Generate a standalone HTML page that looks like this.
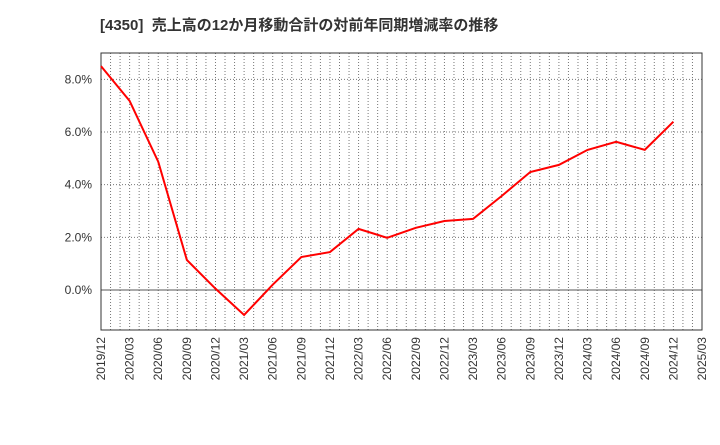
<!DOCTYPE html>
<html><head><meta charset="utf-8"><style>
body{margin:0;background:#fff;}
svg text{font-family:"Liberation Sans","Noto Sans CJK JP",sans-serif;}
</style></head><body>
<svg id="c" width="720" height="440">
<text x="100" y="30" font-size="15" font-weight="bold" fill="#333" style="white-space:pre">[4350]  売上高の12か月移動合計の対前年同期増減率の推移</text>
</svg>
<script>
const categories=["2019/12","2020/03","2020/06","2020/09","2020/12","2021/03","2021/06","2021/09","2021/12","2022/03","2022/06","2022/09","2022/12","2023/03","2023/06","2023/09","2023/12","2024/03","2024/06","2024/09","2024/12","2025/03"];
const values=[8.5,7.18,4.87,1.14,0.05,-0.95,0.2,1.25,1.44,2.32,1.98,2.36,2.62,2.7,3.57,4.48,4.75,5.32,5.63,5.32,6.39];
const yTicks=[0,2,4,6,8];
const L=101,R=702,T=53,B=330,yMin=-1.52,yMax=9.0;
const xs=i=>L+(R-L)*i/(categories.length-1);
const ys=v=>B-(v-yMin)/(yMax-yMin)*(B-T);
const svg=document.getElementById('c');const NS='http://www.w3.org/2000/svg';
function mk(t,a){const e=document.createElementNS(NS,t);for(const k in a)e.setAttribute(k,a[k]);svg.appendChild(e);return e;}
const months=(categories.length-1)*3;
for(let m=1;m<months;m++){const x=L+(R-L)*m/months;
const g=mk('line',{x1:x,x2:x,y1:T,y2:B,stroke:'#777','stroke-dasharray':'1,2','stroke-width':1});

}
yTicks.forEach(v=>{const y=ys(v);
const g=mk('line',{x1:L,x2:R,y1:y,y2:y,stroke:v===0?'#555':'#777','stroke-dasharray':v===0?'none':'1,2','stroke-width':1});


const t=mk('text',{x:L-9,y:y+4,'text-anchor':'end','font-size':12,fill:'#333'});t.textContent=v.toFixed(1)+'%';

});
categories.forEach((c,i)=>{const x=xs(i);
const t=mk('text',{x:0,y:0,'text-anchor':'end','font-size':12,fill:'#333',transform:`translate(${x+4},${B+7}) rotate(-90)`});t.textContent=c;

});
const f=mk('rect',{x:L,y:T,width:R-L,height:B-T,fill:'none',stroke:'#333','stroke-width':1});


const p=mk('polyline',{points:values.map((v,i)=>xs(i)+','+ys(v)).join(' '),fill:'none',stroke:'#f00','stroke-width':2});


</script>
</body></html>
